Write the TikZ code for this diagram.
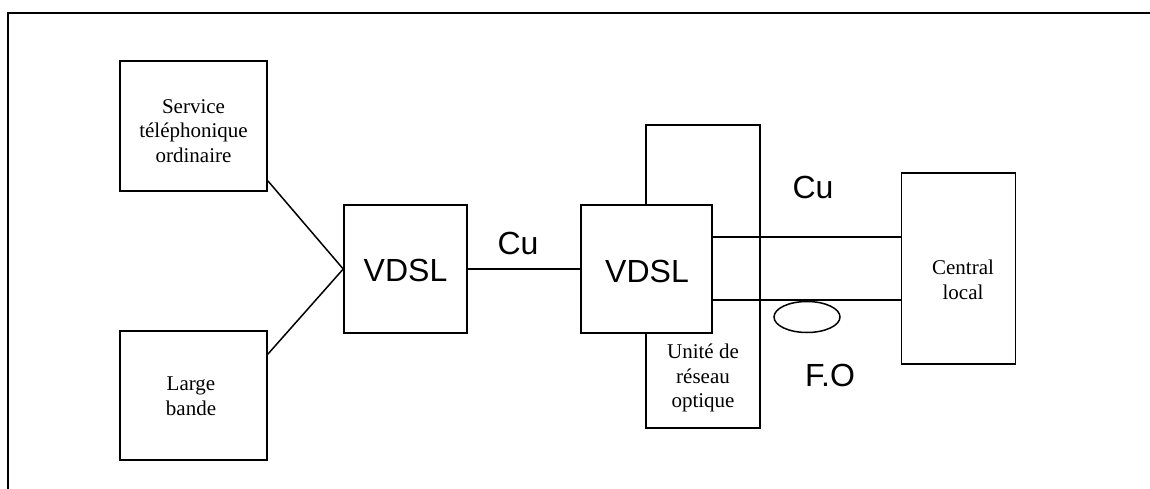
\documentclass[tikz,border=0pt]{standalone}
\usepackage{fontspec}
\setmainfont{Liberation Serif}
\newfontfamily\arialfont{Liberation Sans}
\usetikzlibrary{shapes.geometric,calc}
\tikzset{
  box/.style={draw=black, line width=1.5pt, fill=white, inner sep=0pt},
  serif/.style={font=\fontsize{21}{24.5}\selectfont, align=center, inner sep=0pt},
  big/.style={font=\arialfont\fontsize{32}{38}\selectfont, inner sep=0pt},
  wire/.style={line width=1.5pt},
  frame/.style={line width=2.5pt}
}
\begin{document}
\begin{tikzpicture}[x=1pt,y=-1pt]
\useasboundingbox (0,0) rectangle (1150,489);
\draw[frame] (8,489) -- (8,13) -- (1150,13);

% boxes
\node[box, minimum width=147pt, minimum height=130pt] (svc) at (193.5,126) {};
\node[serif] (svct) at (193.5,131) {Service\\téléphonique\\ordinaire};
\node[box, minimum width=147pt, minimum height=129pt] (lb) at (193.5,395.5) {};
\node[serif] (lbt) at (191,396) {Large\\bande};
\node[box, minimum width=123pt, minimum height=128pt] (v1) at (405.5,269) {};
\node[big] (v1t) at (405.5,270) {VDSL};
\node[box, minimum width=114pt, minimum height=303pt] (onu) at (703,276.5) {};
\node[box, minimum width=131pt, minimum height=128pt] (v2) at (646.5,269) {};
\node[big] (v2t) at (647,271) {VDSL};
\node[serif] (onut) at (703,378) {Unité de\\réseau\\optique};
\node[box, minimum width=114pt, minimum height=191pt] (cl) at (958.5,268.5) {};
\node[serif] (clt) at (963,280) {Central\\local};

% connectors
\draw[wire] ($(svc.south east)+(0,-11)$) -- (v1.west);
\draw[wire] ($(lb.north east)+(0,24)$) -- (v1.west);
\draw[wire] (v1.east) -- (v2.west);
\coordinate (a1) at ($(v2.east)+(0,-32)$);
\coordinate (a2) at ($(v2.east)+(0,31)$);
\draw[wire] (a1) -- (cl.west |- a1);
\draw[wire] (a2) -- (cl.west |- a2);

% fibre ellipse and labels
\node[draw, line width=1.5pt, ellipse, minimum width=66pt, minimum height=31pt, inner sep=0pt] (fo) at (807,317) {};
\node[big] (cu1) at (518,243) {Cu};
\node[big] (cu2) at (813,187) {Cu};
\node[big] (fot) at (830,375) {F.O};
\end{tikzpicture}
\end{document}
